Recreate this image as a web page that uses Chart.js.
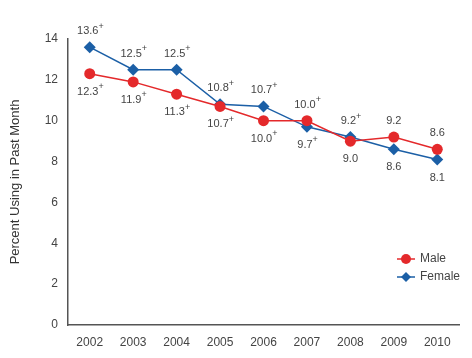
<!DOCTYPE html>
<html>
<head>
<meta charset="utf-8">
<script src="https://cdn.jsdelivr.net/npm/chart.js@4/dist/chart.umd.min.js"></script>
<style>
  html, body { margin: 0; padding: 0; background: #fff; }
  #wrap { width: 472px; height: 358px; }
</style>
</head>
<body>
<div id="wrap"><canvas id="chart" width="472" height="358"></canvas></div>
<script>
const years = ['2002', '2003', '2004', '2005', '2006', '2007', '2008', '2009', '2010'];
const male = [12.3, 11.9, 11.3, 10.7, 10.0, 10.0, 9.0, 9.2, 8.6];
const female = [13.6, 12.5, 12.5, 10.8, 10.7, 9.7, 9.2, 8.6, 8.1];
// "+" marks a significant difference from 2010
const maleSig = [true, true, true, true, true, true, false, false, false];
const femaleSig = [true, true, true, true, true, true, true, false, false];
// where the label sits: 1 = above the point, -1 = below
const maleSide = [-1, -1, -1, -1, -1, 1, -1, 1, 1];
const femaleSide = [1, 1, 1, 1, 1, -1, 1, -1, -1];
const yTicks = [0, 2, 4, 6, 8, 10, 12, 14];

const RED = '#e4292b';
const BLUE = '#1b5fa6';
const TEXT = '#444';

// draws the value labels with their little superscript plus
const valueLabels = {
  id: 'valueLabels',
  afterDatasetsDraw(chart) {
    const ctx = chart.ctx;
    const sets = [[male, maleSig, maleSide], [female, femaleSig, femaleSide]];
    ctx.save();
    ctx.fillStyle = TEXT;
    sets.forEach((s, di) => {
      const meta = chart.getDatasetMeta(di);
      meta.data.forEach((pt, i) => {
        const txt = s[0][i].toFixed(1);
        ctx.font = '11px "Liberation Sans", Arial, sans-serif';
        const w = ctx.measureText(txt).width;
        const y = s[2][i] > 0 ? pt.y - 16 : pt.y + 18;
        ctx.textBaseline = 'middle';
        ctx.textAlign = 'left';
        const x0 = pt.x - w / 2 - (s[1][i] ? 2 : 0);
        ctx.fillText(txt, x0, y);
        if (s[1][i]) {
          ctx.font = '9px "Liberation Sans", Arial, sans-serif';
          ctx.fillText('+', x0 + w, y - 5);
        }
      });
    });
    ctx.restore();
  }
};

// legend with a short line through the marker, inside the plot
const lineLegend = {
  id: 'lineLegend',
  afterDraw(chart) {
    const ctx = chart.ctx;
    const items = [['Male', RED, 'circle'], ['Female', BLUE, 'rectRot']];
    ctx.save();
    items.forEach((it, i) => {
      const y = 259 + i * 18;
      ctx.strokeStyle = it[1];
      ctx.lineWidth = 1.5;
      ctx.beginPath();
      ctx.moveTo(397, y);
      ctx.lineTo(415, y);
      ctx.stroke();
      ctx.fillStyle = it[1];
      Chart.helpers.drawPoint(ctx, { pointStyle: it[2], radius: 5, borderWidth: 0 }, 406, y);
      ctx.fillStyle = TEXT;
      ctx.font = '12px "Liberation Sans", Arial, sans-serif';
      ctx.textBaseline = 'middle';
      ctx.fillText(it[0], 420, y);
    });
    ctx.restore();
  }
};

new Chart(document.getElementById('chart'), {
  type: 'line',
  data: {
    labels: years,
    datasets: [{
      label: 'Male',
      data: male,
      borderColor: RED,
      backgroundColor: RED,
      borderWidth: 1.5,
      pointStyle: 'circle',
      pointRadius: 5.5,
      pointBorderWidth: 0,
      tension: 0
    }, {
      label: 'Female',
      data: female,
      borderColor: BLUE,
      backgroundColor: BLUE,
      borderWidth: 1.5,
      pointStyle: 'rectRot',
      pointRadius: 6,
      pointBorderWidth: 0,
      tension: 0
    }]
  },
  options: {
    responsive: false,
    animation: false,
    events: [],
    layout: { padding: { top: 39, right: 13, left: 0, bottom: 0 } },
    plugins: {
      legend: { display: false },
      tooltip: { enabled: false }
    },
    scales: {
      x: {
        offset: true,
        grid: { display: false, drawTicks: true, tickLength: 6, tickColor: '#555', offset: false },
        border: { display: true, color: '#555', width: 1.5 },
        ticks: { color: TEXT, font: { size: 12, family: '"Liberation Sans", Arial, sans-serif' }, padding: 4, maxRotation: 0 },
        afterFit: s => { s.height = 33; }
      },
      y: {
        min: 0,
        max: 14,
        afterBuildTicks: s => { s.ticks = yTicks.map(v => ({ value: v })); },
        grid: { display: false, drawTicks: true, tickLength: 6, tickColor: '#555' },
        border: { display: true, color: '#555', width: 1.5 },
        ticks: { color: TEXT, font: { size: 12, family: '"Liberation Sans", Arial, sans-serif' }, padding: 4 },
        title: {
          display: true,
          text: 'Percent Using in Past Month',
          color: '#333',
          font: { size: 13, family: '"Liberation Sans", Arial, sans-serif' },
          padding: { top: 8, bottom: 10 }
        },
        afterFit: s => { s.width = 68; }
      }
    }
  },
  plugins: [valueLabels, lineLegend]
});
</script>
</body>
</html>
